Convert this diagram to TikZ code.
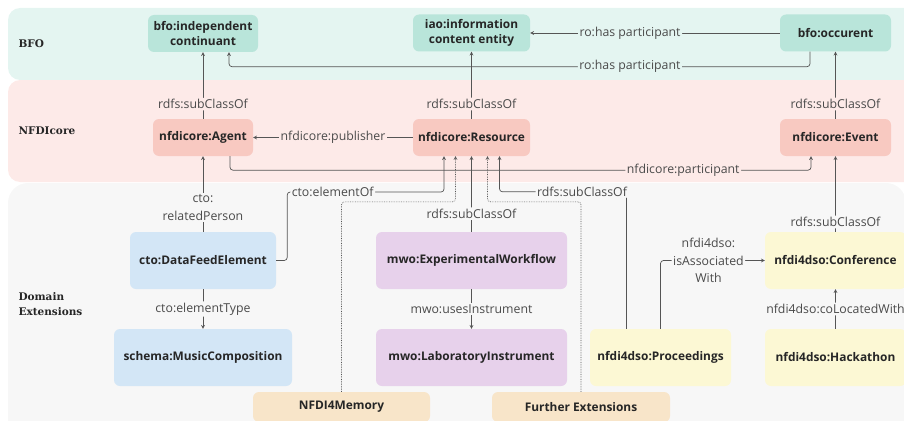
\documentclass[tikz,border=0pt]{standalone}
\usepackage{fontspec}
\setmainfont{Open Sans}
\newfontfamily\slabfont{DejaVu Serif}

\definecolor{bfobg}{HTML}{E4F5F1}
\definecolor{corebg}{HTML}{FDEAE8}
\definecolor{domainbg}{HTML}{F7F7F7}
\definecolor{bfonode}{HTML}{B9E5DA}
\definecolor{corenode}{HTML}{F8C9C1}
\definecolor{ctonode}{HTML}{D3E6F6}
\definecolor{mwonode}{HTML}{E7D1EB}
\definecolor{dsonode}{HTML}{FCF8D4}
\definecolor{extnode}{HTML}{F8E5C9}
\definecolor{linegray}{HTML}{555555}
\definecolor{labelgray}{HTML}{4A4A4A}

\begin{document}
\begin{tikzpicture}[x=1pt, y=-1pt]
        % Define styles
        \tikzset{
            band/.style={rounded corners=12pt},
            bandtitle/.style={anchor=west, align=left, text=black!85, font=\slabfont\bfseries\fontsize{10.5}{15}\selectfont},
            cls/.style={rounded corners=6pt, align=center, inner sep=2pt, text=black!85, font=\bfseries\fontsize{11.9}{15}\selectfont},
            link/.style={->, >=stealth, draw=linegray, line width=0.7pt, rounded corners=3pt},
            lbl/.style={inner sep=1.5pt, align=center, text=labelgray, font=\fontsize{12.3}{17.5}\selectfont}
        }
        \useasboundingbox (0,0) rectangle (904,420);
        % Layer bands
        \fill[band, bfobg] (8,8) rectangle (916,80);
        \fill[band, corebg] (8,80) rectangle (916,182);
        \fill[band, domainbg, rounded corners=20pt] (8,183) rectangle (906,440);
        \node[bandtitle] (tbfo) at (15,44) {BFO};
        \node[bandtitle] (tcore) at (15,131) {NFDIcore};
        \node[bandtitle] (tdomain) at (15,304) {Domain\\Extensions};
        % BFO classes
        \node[cls, fill=bfonode, minimum width=110, minimum height=37] (indep) at (203,33.5) {bfo:independent\\continuant};
        \node[cls, fill=bfonode, minimum width=117, minimum height=37] (iao) at (471.5,33) {iao:information\\content entity};
        \node[cls, fill=bfonode, minimum width=111, minimum height=37] (occ) at (835.5,33) {bfo:occurent};
        % NFDIcore classes
        \node[cls, fill=corenode, minimum width=100, minimum height=37] (agent) at (203,137.5) {nfdicore:Agent};
        \node[cls, fill=corenode, minimum width=117, minimum height=37] (resource) at (471.5,137.5) {nfdicore:Resource};
        \node[cls, fill=corenode, minimum width=111, minimum height=37] (event) at (835.5,137.5) {nfdicore:Event};
        % Domain extension classes
        \node[cls, fill=ctonode, minimum width=146, minimum height=57] (dfe) at (203,260.5) {cto:DataFeedElement};
        \node[cls, fill=ctonode, minimum width=178, minimum height=57] (music) at (203,357.5) {schema:MusicComposition};
        \node[cls, fill=mwonode, minimum width=191, minimum height=57] (workflow) at (471.5,260.5) {mwo:ExperimentalWorkflow};
        \node[cls, fill=mwonode, minimum width=191, minimum height=57] (instrument) at (471.5,357.5) {mwo:LaboratoryInstrument};
        \node[cls, fill=dsonode, minimum width=141, minimum height=57] (proceedings) at (660.5,357.5) {nfdi4dso:Proceedings};
        \node[cls, fill=dsonode, minimum width=141, minimum height=57] (conference) at (835.5,260.5) {nfdi4dso:Conference};
        \node[cls, fill=dsonode, minimum width=141, minimum height=57] (hackathon) at (835.5,357.5) {nfdi4dso:Hackathon};
        % Further extensions (cut at the bottom)
        \node[cls, fill=extnode, minimum width=177, minimum height=30] (memory) at (341.5,407) {NFDI4Memory};
        \node[cls, fill=extnode, minimum width=178, minimum height=30] (further) at (581,407) {Further Extensions};
        % subClassOf links into BFO
        \draw[link] (agent) -- node[lbl, fill=corebg, pos=0.22] {rdfs:subClassOf} (indep);
        \draw[link] (resource) -- node[lbl, fill=corebg, pos=0.22] {rdfs:subClassOf} (iao);
        \draw[link] (event) -- node[lbl, fill=corebg, pos=0.22] {rdfs:subClassOf} (occ);
        % BFO relations
        \draw[link] (occ) -- node[lbl, fill=bfobg, pos=0.6] {ro:has participant} (iao);
        \draw[link] ([xshift=-25.5pt]occ.south) -- ++(0,15) -| node[lbl, fill=bfobg, pos=0.155] {ro:has participant} ([xshift=26pt]indep.south);
        % NFDIcore relations
        \draw[link] (resource) -- node[lbl, fill=corebg] {nfdicore:publisher} (agent);
        \draw[link] ([xshift=27pt]agent.south) -- ++(0,14) -| node[lbl, fill=corebg, pos=0.39] {nfdicore:participant} ([xshift=-24.5pt]event.south);
        % cto
        \draw[link] (dfe) -- node[lbl, fill=domainbg, pos=0.32] {cto:\\relatedPerson} (agent);
        \draw[link] (dfe.east) -- ++(11,0) -- ++(0,-68.5) -| node[lbl, fill=domainbg, pos=0.145] {cto:elementOf} ([xshift=-27.5pt]resource.south);
        \draw[link] (dfe) -- node[lbl, fill=domainbg] {cto:elementType} (music);
        % mwo
        \draw[link] (workflow) -- node[lbl, fill=domainbg, pos=0.24] {rdfs:subClassOf} (resource);
        \draw[link] (workflow) -- node[lbl, fill=domainbg] {mwo:usesInstrument} (instrument);
        % extensions hook into nfdicore:Resource
        \draw[link, densely dotted, line width=0.6pt] (memory.north) -- ++(0,-190) -| ([xshift=-16pt]resource.south);
        \draw[link, densely dotted, line width=0.6pt] (further.north) -- ++(0,-190) -| ([xshift=16pt]resource.south);
        % nfdi4dso
        \draw[link] ([xshift=-34pt]proceedings.north) -- ++(0,-137) -| node[lbl, fill=domainbg, pos=0.175] {rdfs:subClassOf} ([xshift=28pt]resource.south);
        \draw[link] (proceedings.north) |- node[lbl, fill=domainbg, pos=0.73] {nfdi4dso:\\isAssociated\\With} (conference.west);
        \draw[link] (conference) -- node[lbl, fill=domainbg, pos=0.13] {rdfs:subClassOf} (event);
        \draw[link] (hackathon) -- node[lbl, fill=domainbg] {nfdi4dso:coLocatedWith} (conference);
\end{tikzpicture}
\end{document}
